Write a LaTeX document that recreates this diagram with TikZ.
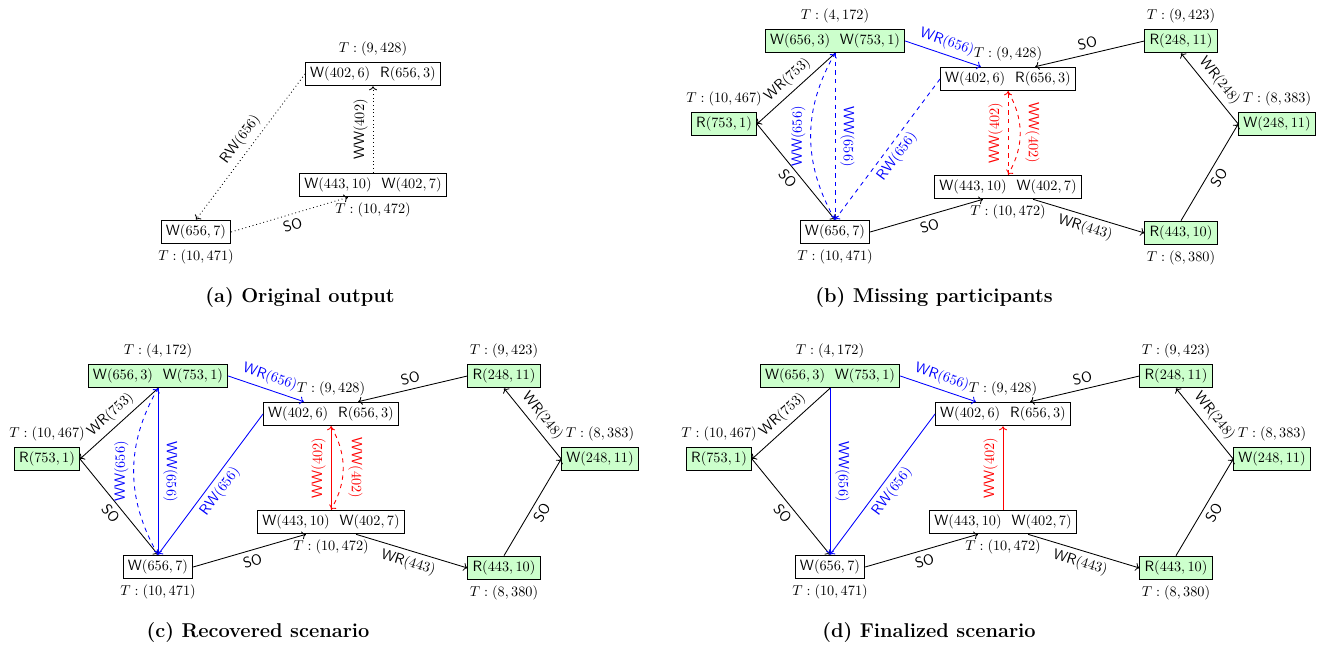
\documentclass[tikz,border=0pt]{standalone}
\usetikzlibrary{calc,positioning,arrows.meta}
\tikzset{>={To[length=2.8pt,width=5.6pt]}}
\colorlet{partColor}{green!20}

\newcommand{\op}[2]{\textsf{#1}$(#2)$}

\tikzset{
  tx/.style={draw,inner sep=3.33pt},
  part/.style={tx,fill=partColor},
  lbl/.style={midway,sloped},
  caption/.style={font=\fontsize{14}{16}\selectfont\bfseries}
}

\begin{document}
\begin{tikzpicture}[x=0.7pt,y=0.7pt,semithick,font=\fontsize{10.4}{12.5}\selectfont]
  \useasboundingbox (0,0) rectangle (1323,649);

  % (a) original output
  \node[tx,label=above:{$T:(9,428)$}] (a1) at (373,575) {\op{W}{402,6}\ \ \op{R}{656,3}};
  \node[tx,label=below:{$T:(10,472)$}] (a2) at (373,464) {\op{W}{443,10}\ \ \op{W}{402,7}};
  \node[tx,label=below:{$T:(10,471)$}] (a3) at (196,417) {\op{W}{656,7}};
  \draw[->,dotted] (a1.west) -- (a3.north) node[lbl,above] {\op{RW}{656}};
  \draw[->,dotted] (a3.east) -- ($(a2.south west)!.33!(a2.south east)$) node[lbl,below] {\textsf{SO}};
  \draw[->,dotted] (a2.north) -- (a1.south) node[midway,above,rotate=90] {\op{WW}{402}};

  % (b), (c), (d) share the same nodes
  \foreach \p/\dx/\dy/\st in {b/0/0/dashed, c/-677/-335/solid, d/-5/-335/solid} {
    \begin{scope}[shift={(\dx,\dy)}]
      \node[part,label=above:{$T:(4,172)$}] (\p-top) at (835,608) {\op{W}{656,3}\ \ \op{W}{753,1}};
      \node[part,label=above:{$T:(10,467)$}] (\p-r753) at (724,525) {\op{R}{753,1}};
      \node[tx,label=below:{$T:(10,471)$}] (\p-w7) at (835,417) {\op{W}{656,7}};
      \node[tx,label=above:{$T:(9,428)$}] (\p-wr) at (1008,570) {\op{W}{402,6}\ \ \op{R}{656,3}};
      \node[tx,label=below:{$T:(10,472)$}] (\p-ww) at (1008,462) {\op{W}{443,10}\ \ \op{W}{402,7}};
      \node[part,label=above:{$T:(9,423)$}] (\p-r248) at (1181,608) {\op{R}{248,11}};
      \node[part,label=above:{$T:(8,383)$}] (\p-w248) at (1277,525) {\op{W}{248,11}};
      \node[part,label=below:{$T:(8,380)$}] (\p-r443) at (1181,416) {\op{R}{443,10}};

      \draw[->] (\p-top.south) -- (\p-r753.east) node[lbl,above] {\op{WR}{753}};
      \draw[->] (\p-r753.east) -- (\p-w7.north) node[lbl,below] {\textsf{SO}};
      \draw[->] (\p-w7.east) -- ($(\p-ww.south west)!.33!(\p-ww.south east)$) node[lbl,below] {\textsf{SO}};
      \draw[->] ($(\p-ww.south west)!.67!(\p-ww.south east)$) -- (\p-r443.west) node[lbl,below] {\op{WR}{443}};
      \draw[->] (\p-r248.west) -- ($(\p-wr.north west)!.7!(\p-wr.north east)$) node[lbl,above] {\textsf{SO}};
      \draw[->] (\p-r443.north) -- (\p-w248.west) node[lbl,below] {\textsf{SO}};
      \draw[->] (\p-w248.west) -- (\p-r248.south) node[lbl,above] {\op{WR}{248}};
      \draw[->,blue] (\p-top.east) -- ($(\p-wr.north west)!.3!(\p-wr.north east)$) node[lbl,above] {\op{WR}{656}};

      \draw[->,blue,\st] (\p-top.south) -- (\p-w7.north) node[midway,above,rotate=-90] {\op{WW}{656}};
      \draw[->,blue,\st] (\p-wr.west) -- (\p-w7.north) node[lbl,below] {\op{RW}{656}};
      \draw[->,red,\st] (\p-ww.north) -- (\p-wr.south) node[midway,above,rotate=90] {\op{WW}{402}};
    \end{scope}
  }

  % edges still unresolved in (b) and (c)
  \foreach \p in {b,c} {
    \draw[->,blue,dashed] (\p-w7.north) to[bend left] node[midway,above,rotate=90] {\op{WW}{656}} (\p-top.south);
    \draw[->,red,dashed] (\p-wr.south) to[bend left] node[midway,above,rotate=-90] {\op{WW}{402}} (\p-ww.north);
  }

  \node[caption] (capa) at (300,351) {(a) Original output};
  \node[caption] (capb) at (934,351) {(b) Missing participants};
  \node[caption] (capc) at (258,16) {(c) Recovered scenario};
  \node[caption] (capd) at (929,16) {(d) Finalized scenario};
\end{tikzpicture}
\end{document}
